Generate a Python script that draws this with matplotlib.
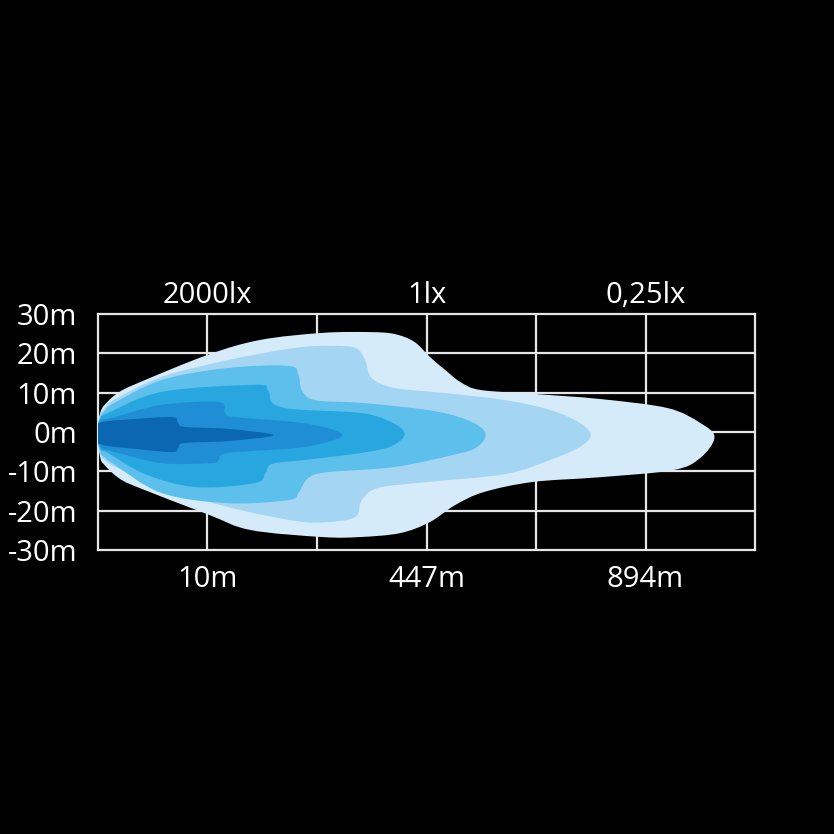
import numpy as np
import matplotlib
matplotlib.use("Agg")
import matplotlib.pyplot as plt
from matplotlib.path import Path
from matplotlib.patches import PathPatch

plt.rcParams['font.family'] = ['Open Sans', 'DejaVu Sans']

# axis labels
y_ticks = [30, 20, 10, 0, -10, -20, -30]
y_labels = ['30m', '20m', '10m', '0m', '-10m', '-20m', '-30m']
dist_ticks = [1, 3, 5]
dist_labels = ['10m', '447m', '894m']
lux_labels = ['2000lx', '1lx', '0,25lx']

# isolux outlines, x in grid columns, y in metres (outer -> inner)
lvl1_x = [-0.01, 0.02, 0.06, 0.18, 0.36, 1.0, 1.48, 2.05, 2.48, 2.71, 2.89, 3.03, 3.17, 3.31, 3.49, 3.97,
          4.58, 5.20, 5.50, 5.63, 5.50, 5.25, 4.58, 3.97, 3.52, 3.26, 3.03, 2.76, 2.39, 2.05, 1.39,
          1.0, 0.34, 0.18, 0.06, 0.02]
lvl1_y = [0.3, 4.8, 6.9, 9.9, 12.4, 19.6, 23.4, 25.2, 25.4, 24.9, 22.9, 19.1, 15.8, 12.7, 10.7, 9.7,
          8.4, 6.1, 2.3, -1.3, -6.6, -9.7, -11.5, -12.7, -15.3, -18.6, -22.9, -25.7, -26.7, -26.7, -24.9,
          -20.9, -13.8, -11.5, -8.4, -6.4]

lvl2_x = [-0.01, 0.02, 0.07, 0.16, 0.58, 1.19, 1.80, 2.12, 2.35, 2.44, 2.50, 2.71, 3.17, 3.72, 4.13, 4.40,
          4.50, 4.40, 4.13, 3.72, 3.01, 2.56, 2.41, 2.35, 2.10, 1.80, 1.19, 0.58, 0.16, 0.07, 0.02]
lvl2_y = [0.2, 4.3, 6.3, 8.4, 14.0, 18.3, 21.4, 21.9, 21.4, 18.3, 13.7, 11.2, 9.9, 8.1, 5.6, 2.3,
          -0.8, -3.8, -7.1, -10.7, -12.7, -14.2, -17.3, -21.6, -22.9, -22.6, -19.1, -14.0, -8.9, -7.3, -5.7]

lvl3_x = [-0.01, 0.02, 0.07, 0.13, 0.58, 1.19, 1.74, 1.83, 1.86, 1.98, 2.41, 3.01, 3.32, 3.49, 3.54, 3.47,
          3.32, 2.71, 2.10, 1.92, 1.83, 1.74, 1.19, 0.58, 0.13, 0.07, 0.02]
lvl3_y = [0.1, 3.9, 5.6, 7.1, 13.2, 16.3, 16.8, 14.5, 10.7, 8.1, 7.4, 5.6, 3.6, 1.3, -1.0, -3.6,
          -5.3, -8.9, -10.2, -11.7, -15.5, -17.3, -18.1, -15.5, -7.9, -6.6, -5.2]

lvl4_x = [-0.01, 0.02, 0.09, 0.58, 1.43, 1.55, 1.59, 1.71, 1.89, 2.41, 2.68, 2.80, 2.68, 2.41, 1.89, 1.59,
          1.53, 1.43, 0.89, 0.43, 0.09, 0.02]
lvl4_y = [0, 3.4, 4.8, 10.2, 12.0, 10.7, 7.4, 6.1, 5.6, 4.8, 2.5, -0.5, -3.6, -5.3, -7.1, -8.1,
          -10.4, -13.0, -14.0, -10.7, -5.3, -4.3]

lvl5_x = [-0.01, 0.02, 0.13, 0.58, 1.10, 1.16, 1.25, 1.80, 2.10, 2.23, 2.10, 1.80, 1.19, 1.10, 1.04,
          0.58, 0.13, 0.02]
lvl5_y = [0, 2.9, 3.6, 6.9, 7.6, 4.8, 3.8, 2.5, 1.0, -0.8, -2.5, -4.1, -5.3, -7.1, -7.9,
          -7.9, -4.9, -3.8]

lvl6_x = [-0.01, 0.02, 0.34, 0.68, 0.73, 0.79, 1.19, 1.60, 1.19, 0.79, 0.73, 0.68, 0.34, 0.02]
lvl6_y = [-0.3, 2.4, 3.3, 3.8, 2.5, 1.3, 0.8, -0.8, -2.3, -2.8, -4.1, -5.1, -4.3, -3.1]

colors = ['#d5ebf9', '#a4d6f3', '#5cbfec', '#27a6e0', '#1f8ed4', '#0b67b2']


def smooth_patch(xs, ys, color):
    # closed catmull-rom outline as bezier segments
    p = np.column_stack([xs, ys]).astype(float)
    n = len(p)
    verts = [p[0]]
    codes = [Path.MOVETO]
    for i in range(n):
        p0, p1, p2, p3 = p[i - 1], p[i], p[(i + 1) % n], p[(i + 2) % n]
        verts += [p1 + (p2 - p0) / 6, p2 - (p3 - p1) / 6, p2]
        codes += [Path.CURVE4] * 3
    verts.append(p[0])
    codes.append(Path.CLOSEPOLY)
    return PathPatch(Path(verts, codes), facecolor=color, edgecolor='none', zorder=3)


fig = plt.figure(figsize=(8.34, 8.34), dpi=100, facecolor='black')
ax = fig.add_axes([0.1175, 0.3405, 0.7878, 0.283])
ax.set_facecolor('black')
ax.set_xlim(0, 6)
ax.set_ylim(-30, 30)

gc = '#e6e6e6'
ax.vlines(range(1, 6), -30, 30, color=gc, lw=1.6, zorder=1)
ax.hlines(range(-20, 30, 10), 0, 6, color=gc, lw=1.6, zorder=1)
for s in ax.spines.values():
    s.set_color(gc)
    s.set_linewidth(1.6)
    s.set_zorder(1)

levels = [(lvl1_x, lvl1_y), (lvl2_x, lvl2_y), (lvl3_x, lvl3_y),
          (lvl4_x, lvl4_y), (lvl5_x, lvl5_y), (lvl6_x, lvl6_y)]
for (xs, ys), c in zip(levels, colors):
    ax.add_patch(smooth_patch(xs, ys, c))

ax.set_yticks(y_ticks, labels=y_labels)
ax.set_xticks(dist_ticks, labels=dist_labels)
ax.tick_params(axis='y', length=0, pad=15, labelsize=21, labelcolor='white')
ax.tick_params(axis='x', length=0, pad=11, labelsize=21, labelcolor='white')

top = ax.secondary_xaxis('top')
top.set_xticks(dist_ticks, labels=lux_labels)
top.tick_params(length=0, pad=3, labelsize=21, labelcolor='white')
top.spines['top'].set_visible(False)

fig.savefig('out.png', dpi=100, facecolor='black')
